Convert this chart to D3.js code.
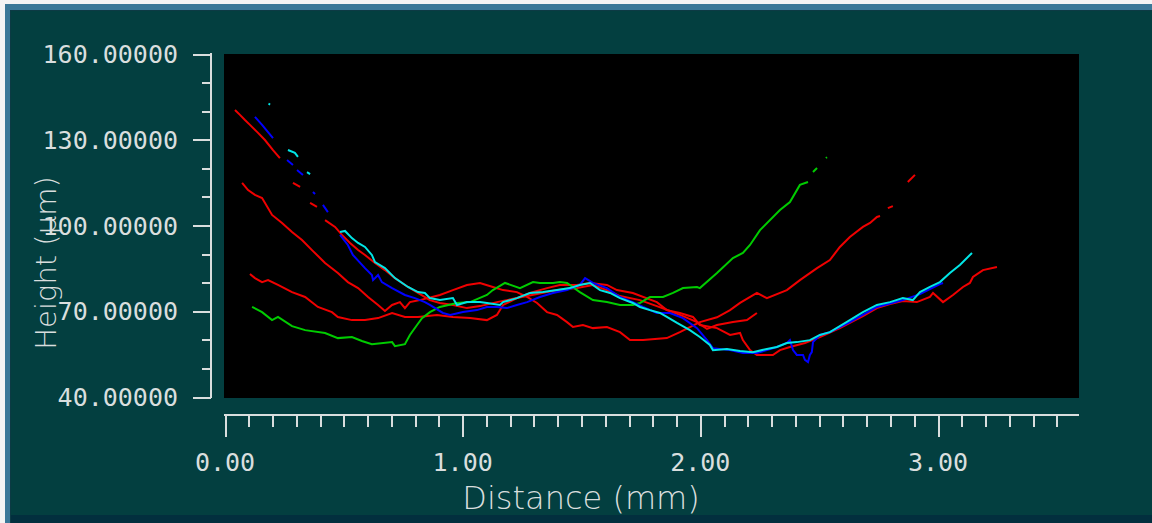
<!DOCTYPE html>
<html>
<head>
<meta charset="utf-8">
<script src="https://cdn.jsdelivr.net/npm/d3@7"></script>
<style>
html,body{margin:0;padding:0;background:#f4f4f4;overflow:hidden;}
svg{display:block;}
</style>
</head>
<body>
<svg id="chart" width="1152" height="523"></svg>
<script>
// ---- axis labels / ticks ----
const xTickLabels = ["0.00", "1.00", "2.00", "3.00"];
const xMajorValues = [0, 1, 2, 3];
const yTickLabels = ["40.00000", "70.00000", "100.00000", "130.00000", "160.00000"];
const yMajorValues = [40, 70, 100, 130, 160];
const xTitle = "Distance (mm)";
const yTitle = "Height (µm)";

// ---- profile series: [distance mm, height µm], null = gap in data ----
const red1 = [[0.042,140.4],[0.063,138.7],[0.084,136.9],[0.105,135.2],[0.139,132.4],[0.168,129.9],[0.202,126.4],[0.231,123.6],null,
  [0.286,114.9],[0.316,113.5],null,[0.358,107.9],[0.387,106.5],null,[0.421,101.9],[0.463,99.5],[0.492,96.7],[0.526,93.9],
  [0.560,91.4],[0.589,89.7],[0.631,86.9],[0.673,84.4],[0.715,81.6],[0.770,78.5],[0.812,76.4],[0.862,73.9],[0.904,72.9],
  [0.959,72.2],[1.018,71.1],[1.073,71.8],[1.144,73.2],[1.228,74.6],[1.313,76.0],[1.397,77.4],[1.481,78.1],[1.548,79.2],
  [1.607,77.4],[1.662,75.3],[1.746,73.9],[1.817,71.8],[1.872,70.1],[1.927,68.3],[1.986,66.2],[2.028,63.8],[2.070,65.2],
  [2.137,66.2],[2.196,66.9],[2.238,69.4]];
const red2 = [[0.072,114.9],[0.097,112.4],[0.126,110.7],[0.156,109.6],[0.198,103.7],[0.240,100.9],[0.282,97.7],[0.324,94.9],
  [0.366,91.4],[0.421,86.9],[0.475,83.4],[0.517,80.2],[0.560,78.1],[0.602,75.0],[0.644,72.2],[0.673,70.1],[0.703,72.2],
  [0.736,73.2],[0.757,71.1],[0.778,73.2],[0.820,73.9],[0.904,75.7],[0.959,77.4],[1.018,79.2],[1.073,79.9],[1.127,78.5],
  [1.170,77.4],[1.228,76.7],[1.271,75.0],[1.313,72.9],[1.355,69.7],[1.397,68.7],[1.439,66.2],[1.464,64.5],[1.506,65.2],
  [1.548,64.1],[1.607,64.5],[1.662,62.7],[1.704,59.9],[1.759,59.9],[1.859,60.6],[1.914,62.7],[1.998,66.2],[2.070,67.9],
  [2.125,70.4],[2.167,72.9],[2.238,76.4],[2.280,74.6],[2.364,77.4],[2.419,80.9],[2.491,85.1],[2.545,87.9],[2.587,92.5],
  [2.629,96.0],[2.684,99.5],[2.714,100.9],[2.743,103.0],[2.756,103.3],null,[2.789,106.1],[2.810,106.8],null,[2.873,115.2],[2.903,117.7]];
const red3 = [[0.105,83.0],[0.126,81.6],[0.156,80.2],[0.181,80.9],[0.223,79.2],[0.282,76.7],[0.337,75.0],[0.391,71.5],
  [0.450,69.7],[0.475,68.0],[0.534,66.9],[0.589,66.9],[0.644,67.6],[0.703,69.4],[0.757,68.0],[0.812,68.0],[0.892,68.7],
  [0.959,68.0],[1.031,67.6],[1.102,66.9],[1.144,68.7],[1.170,72.2],[1.228,74.6],[1.283,76.4],[1.355,78.1],[1.409,79.2],
  [1.481,79.2],[1.536,79.9],[1.607,79.2],[1.649,77.4],[1.716,76.4],[1.817,73.2],[1.859,70.4],[1.914,69.4],[1.969,68.0],
  [1.998,65.2],[2.070,64.1],[2.125,61.7],[2.167,62.4],[2.179,59.9],[2.209,56.4],[2.238,54.7],[2.305,54.7],[2.335,56.4],
  [2.377,57.5],[2.440,58.9],[2.503,61.0],[2.587,64.1],[2.684,68.3],[2.743,71.1],[2.798,72.5],[2.852,73.6],[2.911,73.2],
  [2.966,75.0],[2.979,76.4],[3.021,73.2],[3.063,75.7],[3.105,78.5],[3.134,79.9],[3.147,82.0],[3.189,84.4],[3.248,85.5]];
const green = [[0.114,71.5],[0.156,69.7],[0.198,66.9],[0.223,68.0],[0.282,64.8],[0.337,63.4],[0.421,62.4],[0.475,60.6],
  [0.534,61.0],[0.576,59.6],[0.618,58.5],[0.703,59.2],[0.715,57.8],[0.757,58.5],[0.778,61.7],[0.808,65.2],[0.829,67.6],
  [0.862,69.7],[0.904,71.5],[0.976,72.9],[1.031,73.2],[1.102,75.7],[1.127,77.4],[1.178,79.9],[1.241,78.1],[1.296,80.2],
  [1.325,79.9],[1.380,79.9],[1.409,80.2],[1.439,79.9],[1.493,76.7],[1.548,73.9],[1.607,73.2],[1.662,72.2],[1.716,72.2],
  [1.746,72.9],[1.788,75.0],[1.843,75.0],[1.885,76.4],[1.927,78.1],[1.986,78.5],[1.998,78.1],[2.070,83.4],[2.137,88.6],
  [2.179,90.4],[2.209,93.2],[2.251,98.4],[2.335,105.4],[2.377,108.2],[2.419,114.2],[2.453,115.2],null,[2.474,118.7],
  [2.491,120.1],null,[2.528,123.6],[2.533,123.9]];
const blue = [[0.126,138.0],[0.156,135.2],[0.181,132.7],[0.202,130.6],null,[0.261,122.9],[0.286,121.2],null,[0.303,119.4],
  [0.328,117.7],null,[0.370,111.7],[0.379,111.0],null,[0.412,107.2],[0.433,104.7],null,[0.484,96.7],[0.517,93.2],
  [0.538,89.7],[0.589,85.1],[0.618,82.7],[0.623,80.9],[0.644,82.7],[0.660,80.2],[0.703,78.1],[0.757,75.7],[0.799,74.6],
  [0.841,73.2],[0.862,72.2],[0.917,69.4],[0.947,68.7],[1.001,69.7],[1.060,70.4],[1.102,71.5],[1.144,71.5],[1.186,71.1],
  [1.228,72.2],[1.271,73.2],[1.325,75.0],[1.380,76.4],[1.439,77.4],[1.493,79.2],[1.515,81.6],[1.548,79.9],[1.607,78.1],
  [1.662,75.0],[1.716,73.2],[1.759,71.5],[1.817,69.4],[1.872,69.4],[1.927,67.6],[1.986,64.1],[2.028,59.9],[2.053,57.1],
  [2.125,56.4],[2.179,55.4],[2.238,55.4],[2.280,56.4],[2.322,57.5],[2.364,58.9],[2.377,59.9],[2.390,56.4],[2.406,54.7],
  [2.432,54.7],[2.440,53.0],[2.453,52.2],[2.461,54.7],[2.469,55.7],[2.474,59.2],[2.503,61.7],[2.545,62.7],[2.629,66.2],
  [2.743,71.5],[2.852,73.9],[2.924,76.0],[3.008,79.5],[3.021,79.9]];
const cyan = [[0.183,142.6],[0.190,142.3],null,[0.265,126.4],[0.294,125.4],[0.307,124.0],null,[0.345,118.7],[0.358,118.0],null,
  [0.484,97.7],[0.505,98.1],[0.534,95.6],[0.560,93.9],[0.589,92.5],[0.618,89.7],[0.631,87.2],[0.673,85.1],[0.715,81.6],
  [0.770,78.5],[0.812,76.7],[0.841,76.4],[0.862,74.6],[0.904,73.9],[0.959,74.6],[0.976,72.2],[1.018,73.2],[1.073,73.2],
  [1.102,72.9],[1.157,72.2],[1.170,73.2],[1.228,74.6],[1.283,76.4],[1.338,76.7],[1.397,77.4],[1.451,78.1],[1.493,79.2],
  [1.536,79.9],[1.578,77.4],[1.620,76.4],[1.662,74.6],[1.716,72.9],[1.746,71.5],[1.788,70.4],[1.830,69.4],[1.859,68.0],
  [1.902,65.9],[1.956,63.4],[1.998,61.0],[2.040,58.2],[2.053,56.4],[2.112,56.8],[2.167,56.1],[2.221,55.7],[2.280,56.8],
  [2.322,57.5],[2.364,58.9],[2.406,59.2],[2.461,59.9],[2.503,61.7],[2.545,62.7],[2.629,66.9],[2.684,69.7],[2.743,72.2],
  [2.798,73.2],[2.852,74.6],[2.894,73.9],[2.924,76.7],[2.966,78.5],[3.008,80.2],[3.050,83.4],[3.092,86.2],[3.143,90.4]];

const seriesList = [
  {data: red1, color: "#f00000"},
  {data: red2, color: "#f00000"},
  {data: red3, color: "#f00000"},
  {data: green, color: "#00cc00"},
  {data: blue, color: "#0000ff"},
  {data: cyan, color: "#00e6e6"}
];

// ---- layout ----
const W = 1152, H = 523;
const plot = {left: 224, top: 54, right: 1079, bottom: 398};
const svg = d3.select("#chart");

// frame
svg.append("rect").attr("x", 0).attr("y", 0).attr("width", W).attr("height", H).attr("fill", "#f4f4f4");
svg.append("rect").attr("x", 5).attr("y", 4).attr("width", W - 5).attr("height", H - 4).attr("fill", "#3b7898");
svg.append("rect").attr("x", 10).attr("y", 10).attr("width", W - 10).attr("height", H - 10).attr("fill", "#0c3a44");
svg.append("rect").attr("x", 11).attr("y", 11).attr("width", W - 11).attr("height", 504).attr("fill", "#033f40");
svg.append("rect").attr("x", 11).attr("y", 515).attr("width", W - 11).attr("height", 8).attr("fill", "#022f3e");

// plot background
svg.append("rect").attr("x", plot.left).attr("y", plot.top)
  .attr("width", plot.right - plot.left).attr("height", plot.bottom - plot.top).attr("fill", "#000000");

const x = d3.scaleLinear().domain([0, 3.6]).range([225, 225 + 3.6 * 237.67]);
const y = d3.scaleLinear().domain([40, 160]).range([397, 54]);

const axisColor = "#d9dede";

// Y axis
const yMinor = d3.range(40, 160.001, 10);
const yAxis = d3.axisLeft(y).tickValues(yMinor).tickSize(9).tickSizeOuter(0).tickFormat("");
const gy = svg.append("g").attr("transform", "translate(211,0)").call(yAxis);
gy.select(".domain").remove();
gy.selectAll(".tick line").attr("stroke", axisColor).attr("stroke-width", 2)
  .attr("x2", d => yMajorValues.includes(Math.round(d)) ? -18 : -9).attr("shape-rendering", "crispEdges");
svg.append("line").attr("x1", 211).attr("x2", 211).attr("y1", y(160) - 1).attr("y2", y(40) + 1)
  .attr("stroke", axisColor).attr("stroke-width", 2).attr("shape-rendering", "crispEdges");
svg.selectAll(".ylab").data(yMajorValues).enter().append("text")
  .attr("class", "ylab")
  .attr("x", 178).attr("y", d => y(d)).attr("dy", "0.36em")
  .attr("text-anchor", "end")
  .attr("font-family", "'DejaVu Sans Mono', monospace").attr("font-size", 25)
  .attr("fill", axisColor)
  .text((d, i) => yTickLabels[i]);

// X axis
const xMinor = d3.range(0, 36).map(i => i / 10);
const xAxis = d3.axisBottom(x).tickValues(xMinor).tickSize(12).tickSizeOuter(0).tickFormat("");
const gx = svg.append("g").attr("transform", "translate(0,415)").call(xAxis);
gx.select(".domain").remove();
gx.selectAll(".tick line").attr("stroke", axisColor).attr("stroke-width", 2)
  .attr("y2", d => Math.abs(d - Math.round(d)) < 1e-6 ? 22 : 12).attr("shape-rendering", "crispEdges");
svg.append("line").attr("x1", 224).attr("x2", 1079).attr("y1", 415).attr("y2", 415)
  .attr("stroke", axisColor).attr("stroke-width", 2).attr("shape-rendering", "crispEdges");
svg.selectAll(".xlab").data(xMajorValues).enter().append("text")
  .attr("class", "xlab")
  .attr("x", d => x(d)).attr("y", 471)
  .attr("text-anchor", "middle")
  .attr("font-family", "'DejaVu Sans Mono', monospace").attr("font-size", 25)
  .attr("fill", axisColor)
  .text((d, i) => xTickLabels[i]);

// titles
svg.append("text").attr("x", 581).attr("y", 509).attr("text-anchor", "middle")
  .attr("font-family", "'DejaVu Sans', sans-serif").attr("font-size", 32).attr("font-weight", 200)
  .attr("fill", axisColor).text(xTitle);
svg.append("text").attr("transform", "translate(56,263) rotate(-90)").attr("text-anchor", "middle")
  .attr("font-family", "'DejaVu Sans', sans-serif").attr("font-size", 29).attr("font-weight", 200)
  .attr("fill", axisColor).text(yTitle);

// series
const line = d3.line().defined(d => d !== null).x(d => x(d[0])).y(d => y(d[1]));
const gLines = svg.append("g");
seriesList.forEach(s => {
  gLines.append("path").datum(s.data)
    .attr("d", line)
    .attr("fill", "none")
    .attr("stroke", s.color)
    .attr("stroke-width", 2)
    .attr("stroke-linejoin", "miter");
});
</script>
</body>
</html>
